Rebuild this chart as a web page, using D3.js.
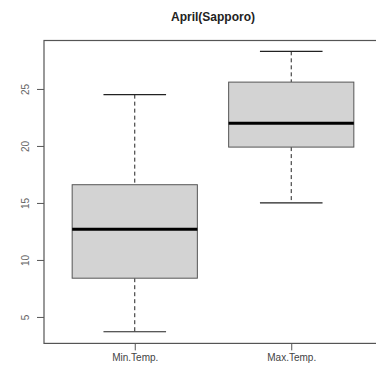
<!DOCTYPE html>
<html>
<head>
<meta charset="utf-8">
<script src="https://cdn.jsdelivr.net/npm/d3@7"></script>
<style>
  html, body { margin: 0; padding: 0; background: #fff; }
  svg { display: block; }
  text { font-family: "Liberation Sans", Arial, sans-serif; }
</style>
</head>
<body>
<script>
// April temperature summary for Sapporo (°C)
const categories   = ["Min.Temp.", "Max.Temp."];
const lowerWhisker = [3.7, 15.0];
const q1           = [8.4, 19.9];
const median       = [12.7, 22.0];
const q3           = [16.6, 25.6];
const upperWhisker = [24.5, 28.3];
const yTicks       = [5, 10, 15, 20, 25];
const title        = "April(Sapporo)";

const W = 376, H = 374;
const svg = d3.select("body").append("svg").attr("width", W).attr("height", H);

// Plot region: category positions 1..n with the usual 4% padding
const n = categories.length;
const x = d3.scaleLinear().domain([0.42, n + 0.58]).range([44, 382]);
const y = d3.scaleLinear().domain([2.68, 29.25]).range([343.4, 40.5]);

const boxHalf = 0.4, capHalf = 0.2;

const boxes = svg.append("g");
categories.forEach((c, i) => {
  const cx = i + 1;
  const g = boxes.append("g");
  // whiskers
  g.append("line")
    .attr("x1", x(cx)).attr("x2", x(cx))
    .attr("y1", y(upperWhisker[i])).attr("y2", y(q3[i]))
    .attr("stroke", "#222").attr("stroke-width", 1).attr("stroke-dasharray", "4,3");
  g.append("line")
    .attr("x1", x(cx)).attr("x2", x(cx))
    .attr("y1", y(q1[i])).attr("y2", y(lowerWhisker[i]))
    .attr("stroke", "#222").attr("stroke-width", 1).attr("stroke-dasharray", "4,3");
  // caps
  [upperWhisker[i], lowerWhisker[i]].forEach(v => {
    g.append("line")
      .attr("x1", x(cx - capHalf)).attr("x2", x(cx + capHalf))
      .attr("y1", y(v)).attr("y2", y(v))
      .attr("stroke", "#222").attr("stroke-width", 1.2);
  });
  // box
  g.append("rect")
    .attr("x", x(cx - boxHalf)).attr("width", x(cx + boxHalf) - x(cx - boxHalf))
    .attr("y", y(q3[i])).attr("height", y(q1[i]) - y(q3[i]))
    .attr("fill", "#d3d3d3").attr("stroke", "#555").attr("stroke-width", 1);
  // median
  g.append("line")
    .attr("x1", x(cx - boxHalf)).attr("x2", x(cx + boxHalf))
    .attr("y1", y(median[i])).attr("y2", y(median[i]))
    .attr("stroke", "#000").attr("stroke-width", 3);
});

// frame
svg.append("rect")
  .attr("x", x.range()[0]).attr("y", y.range()[1])
  .attr("width", x.range()[1] - x.range()[0])
  .attr("height", y.range()[0] - y.range()[1])
  .attr("fill", "none").attr("stroke", "#555").attr("stroke-width", 1.2);

// y axis
const yAxis = svg.append("g")
  .attr("transform", `translate(${x.range()[0]},0)`)
  .call(d3.axisLeft(y).tickValues(yTicks).tickSize(7).tickFormat(d3.format("d")));
yAxis.select(".domain").remove();
yAxis.selectAll(".tick line").attr("stroke", "#555");
yAxis.selectAll(".tick text")
  .attr("x", null).attr("dy", null)
  .attr("transform", "translate(-15,0) rotate(-90)")
  .attr("text-anchor", "middle")
  .attr("font-size", 10)
  .attr("font-family", "Liberation Sans, Arial, sans-serif")
  .attr("fill", "#666");

// x axis
const xAxis = svg.append("g")
  .attr("transform", `translate(0,${y.range()[0]})`)
  .call(d3.axisBottom(x).tickValues(d3.range(1, n + 1)).tickSize(7)
    .tickFormat(d => categories[d - 1]));
xAxis.select(".domain").remove();
xAxis.selectAll(".tick line").attr("stroke", "#555");
xAxis.selectAll(".tick text")
  .attr("y", 18).attr("dy", null)
  .attr("font-size", 10)
  .attr("font-family", "Liberation Sans, Arial, sans-serif")
  .attr("fill", "#444");

// title
svg.append("text")
  .attr("x", (x.range()[0] + x.range()[1]) / 2)
  .attr("y", 21)
  .attr("text-anchor", "middle")
  .attr("font-size", 12)
  .attr("font-weight", "bold")
  .attr("fill", "#222")
  .text(title);
</script>
</body>
</html>
